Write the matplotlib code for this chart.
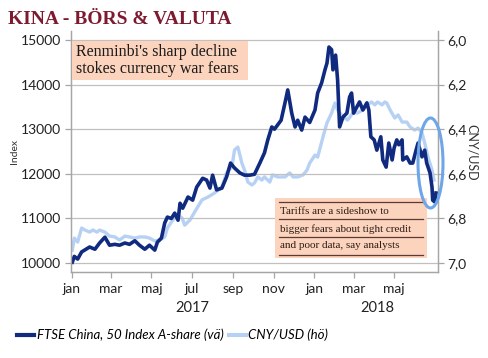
import matplotlib
matplotlib.use("Agg")
import matplotlib.pyplot as plt
import matplotlib.transforms as mtransforms
from matplotlib.patches import Ellipse, Rectangle
from matplotlib.lines import Line2D
import pandas as pd

# FTSE China A50 (left axis)
ftse_dates = [
    "2017-01-02", "2017-01-05", "2017-01-10", "2017-01-16", "2017-01-28", "2017-02-05",
    "2017-02-12", "2017-02-20", "2017-02-27", "2017-03-07", "2017-03-14", "2017-03-22",
    "2017-03-29", "2017-04-06", "2017-04-13", "2017-04-21", "2017-04-28", "2017-05-06",
    "2017-05-10", "2017-05-16", "2017-05-21", "2017-05-25", "2017-05-31", "2017-06-05",
    "2017-06-10", "2017-06-13", "2017-06-17", "2017-06-25", "2017-07-02", "2017-07-08",
    "2017-07-17", "2017-07-23", "2017-07-28", "2017-08-01", "2017-08-07", "2017-08-15",
    "2017-08-22", "2017-08-28", "2017-09-03", "2017-09-11", "2017-09-18", "2017-09-26",
    "2017-10-03", "2017-10-11", "2017-10-18", "2017-10-23", "2017-10-29", "2017-11-02",
    "2017-11-12", "2017-11-18", "2017-11-22", "2017-11-28", "2017-12-03", "2017-12-07",
    "2017-12-13", "2017-12-18", "2017-12-25",
    "2018-01-02", "2018-01-06", "2018-01-12", "2018-01-17", "2018-01-20", "2018-01-23",
    "2018-01-27", "2018-01-29", "2018-02-02", "2018-02-05", "2018-02-08", "2018-02-13",
    "2018-02-19", "2018-02-23", "2018-02-26", "2018-03-01", "2018-03-06", "2018-03-10",
    "2018-03-15", "2018-03-21", "2018-03-24", "2018-03-27", "2018-04-01", "2018-04-05",
    "2018-04-11", "2018-04-14", "2018-04-19", "2018-04-23", "2018-04-28", "2018-05-01",
    "2018-05-05", "2018-05-08", "2018-05-13", "2018-05-14", "2018-05-20", "2018-05-25",
    "2018-05-29", "2018-06-03", "2018-06-06", "2018-06-12", "2018-06-16", "2018-06-19",
    "2018-06-24", "2018-06-27", "2018-06-28", "2018-07-01", "2018-07-03",
]
ftse_values = [
    10020, 10150, 10090, 10250, 10360, 10310,
    10450, 10580, 10400, 10420, 10400, 10450,
    10420, 10500, 10400, 10310, 10400, 10290,
    10470, 10560, 10900, 11030, 11000, 11120,
    10960, 11340, 11230, 11480, 11410, 11700,
    11900, 11860, 11680, 11970, 11640, 11680,
    11930, 12240, 12130, 12020, 11970, 11970,
    11990, 12240, 12470, 12760, 13050, 13000,
    13200, 13600, 13880, 13360, 13050, 13200,
    12980, 13270, 13150,
    13430, 13810, 14040, 14330, 14480, 14840,
    14780, 14330, 14660, 14100, 13050, 13270,
    13360, 13720, 13810, 13360, 13500, 13610,
    13430, 13590, 13430, 12830, 12760, 12530,
    12830, 12310, 12150, 12690, 12310, 12580,
    12760, 12650, 12760, 12310, 12380, 12240,
    12240, 12530, 12690, 12380, 12530, 12240,
    12020, 11700, 11410, 11370, 11570,
]

# CNY per USD (right axis, inverted)
cny_dates = [
    "2017-01-02", "2017-01-05", "2017-01-10", "2017-01-16", "2017-01-21", "2017-01-28",
    "2017-02-02", "2017-02-08", "2017-02-12", "2017-02-20", "2017-02-27", "2017-03-07",
    "2017-03-14", "2017-03-22", "2017-03-29", "2017-04-06", "2017-04-13", "2017-04-21",
    "2017-04-28", "2017-05-06", "2017-05-13", "2017-05-21", "2017-05-25", "2017-05-31",
    "2017-06-05", "2017-06-10", "2017-06-16", "2017-06-20", "2017-06-28", "2017-07-05",
    "2017-07-16", "2017-07-25", "2017-08-04", "2017-08-15", "2017-08-22", "2017-08-30",
    "2017-09-03", "2017-09-08", "2017-09-14", "2017-09-18", "2017-09-23", "2017-09-29",
    "2017-10-03", "2017-10-08", "2017-10-14", "2017-10-18", "2017-10-26", "2017-10-30",
    "2017-11-07", "2017-11-18", "2017-11-25", "2017-11-30", "2017-12-07", "2017-12-15",
    "2017-12-21", "2017-12-25",
    "2018-01-02", "2018-01-06", "2018-01-14", "2018-01-20", "2018-01-27", "2018-02-01",
    "2018-02-05", "2018-02-13", "2018-02-20", "2018-02-28", "2018-03-07", "2018-03-15",
    "2018-03-22", "2018-03-28", "2018-04-02", "2018-04-06", "2018-04-13", "2018-04-17",
    "2018-04-20", "2018-04-25", "2018-05-02", "2018-05-07", "2018-05-13", "2018-05-20",
    "2018-05-25", "2018-06-01", "2018-06-06", "2018-06-12", "2018-06-16", "2018-06-21",
    "2018-06-27", "2018-06-30",
]
cny_values = [
    6.942, 6.888, 6.906, 6.843, 6.852, 6.861,
    6.852, 6.861, 6.852, 6.861, 6.879, 6.883,
    6.897, 6.879, 6.883, 6.888, 6.883, 6.883,
    6.888, 6.901, 6.897, 6.883, 6.843, 6.816,
    6.798, 6.785, 6.798, 6.830, 6.807, 6.771,
    6.717, 6.704, 6.686, 6.659, 6.596, 6.569,
    6.493, 6.480, 6.552, 6.583, 6.637, 6.650,
    6.641, 6.614, 6.628, 6.614, 6.637, 6.605,
    6.614, 6.614, 6.596, 6.614, 6.614, 6.605,
    6.583, 6.552,
    6.516, 6.525, 6.435, 6.372, 6.327, 6.283,
    6.314, 6.345, 6.359, 6.327, 6.327, 6.314,
    6.291, 6.278, 6.291, 6.278, 6.291, 6.278,
    6.283, 6.314, 6.350, 6.336, 6.368, 6.368,
    6.390, 6.404, 6.395, 6.417, 6.462, 6.525,
    6.583, 6.628,
]

month_ticks = ["2017-01-01", "2017-03-01", "2017-05-01", "2017-07-01", "2017-09-01",
               "2017-11-01", "2018-01-01", "2018-03-01", "2018-05-01"]
month_labels = ["jan", "mar", "maj", "jul", "sep", "nov", "jan", "mar", "maj"]
year_ticks = ["2017-01-01", "2018-01-01"]
year_pos = ["2017-07-02", "2018-04-05"]
year_labels = ["2017", "2018"]
left_ticks = [10000, 11000, 12000, 13000, 14000, 15000]
right_ticks = [6.0, 6.2, 6.4, 6.6, 6.8, 7.0]

navy = "#102a80"
light = "#b7d1f5"
gray = "#a6a6a6"
sans = "Lato"
serif = "Liberation Serif"

W, H = 488, 358
fig = plt.figure(figsize=(W / 100, H / 100), dpi=100)
ax = fig.add_axes([71 / W, 1 - 272 / H, 367 / W, 241 / H])
ax2 = ax.twinx()
ax.set_zorder(ax2.get_zorder() + 1)
ax.patch.set_visible(False)

ax2.plot(pd.to_datetime(cny_dates), cny_values, color=light, lw=2.4, solid_joinstyle="round")
ax.plot(pd.to_datetime(ftse_dates), ftse_values, color=navy, lw=2.6, solid_joinstyle="round")

ax.set_xlim(pd.Timestamp("2016-12-31"), pd.Timestamp("2018-07-06"))
ax.set_ylim(9800, 15200)
ax2.set_ylim(7.04, 5.96)

ax.set_yticks(left_ticks)
ax.set_yticklabels([str(v) for v in left_ticks])
ax2.set_yticks(right_ticks)
ax2.set_yticklabels([f"{v:.1f}".replace(".", ",") for v in right_ticks])
ax.set_xticks(pd.to_datetime(month_ticks))
ax.set_xticklabels(month_labels)
ax.set_xticks(pd.to_datetime(year_ticks), minor=True)

ax.grid(axis="y", color="#c0c0c0", lw=0.9)
ax.set_axisbelow(True)

for a in (ax, ax2):
    for side in ("left", "right", "bottom"):
        a.spines[side].set_color(gray)
        a.spines[side].set_linewidth(0.9)
    a.spines["top"].set_visible(False)
    a.tick_params(colors=gray, labelcolor="#222222", length=4, width=0.9, labelsize=10)
    for lab in a.get_xticklabels() + a.get_yticklabels():
        lab.set_family(sans)
ax.tick_params(axis="x", which="minor", length=9, width=0.9, colors=gray)
ax.tick_params(axis="x", pad=4)
ax.tick_params(axis="y", pad=3)
ax2.tick_params(axis="y", pad=3)

trans = mtransforms.blended_transform_factory(ax.transData, ax.transAxes)
for pos, lab in zip(year_pos, year_labels):
    ax.text(pd.Timestamp(pos), -0.15, lab, transform=trans, ha="center", va="center",
            fontsize=10.5, family=sans, color="#222222")

fig.text(15 / W, 1 - 152 / H, "Index", rotation=90, ha="center", va="center",
         fontsize=7.5, family=sans, color="#333333")
fig.text(472 / W, 1 - 152 / H, "CNY/USD", rotation=270, ha="center", va="center",
         fontsize=9, family=sans, color="#333333")

fig.text(8 / W, 1 - 19 / H, "KINA - BÖRS & VALUTA", ha="left", va="center",
         fontsize=14, fontweight="bold", family=serif, color="#7e1a30")

# top annotation box
fig.add_artist(Rectangle((72 / W, 1 - 80 / H), 176 / W, 39 / H, transform=fig.transFigure,
                         facecolor="#fcd3bc", edgecolor="none", zorder=5))
fig.text(76 / W, 1 - 52 / H, "Renminbi's sharp decline", ha="left", va="center",
         fontsize=11.5, family=serif, color="#1a1a1a", zorder=6)
fig.text(76 / W, 1 - 69 / H, "stokes currency war fears", ha="left", va="center",
         fontsize=11.5, family=serif, color="#1a1a1a", zorder=6)

# bottom annotation box
fig.add_artist(Rectangle((275 / W, 1 - 258 / H), 152 / W, 60 / H, transform=fig.transFigure,
                         facecolor="#fcd3bc", edgecolor="none", zorder=5))
for yy in (202, 219, 237, 255):
    fig.add_artist(Line2D([279 / W, 423 / W], [1 - yy / H, 1 - yy / H], transform=fig.transFigure,
                          color="#5b3b33", lw=0.9, zorder=6))
for yy, line in zip((211, 229, 246), ("Tariffs are a sideshow to",
                                      "bigger fears about tight credit",
                                      "and poor data, say analysts")):
    fig.text(280 / W, 1 - yy / H, line, ha="left", va="center", fontsize=8,
             family=serif, color="#2b1d18", zorder=6)

fig.add_artist(Ellipse((430.5 / W, 1 - 163 / H), 25 / W, 90 / H, transform=fig.transFigure,
                       facecolor="none", edgecolor="#6ea6e8", lw=2.2, zorder=7))

handles = [Line2D([], [], color=navy, lw=3), Line2D([], [], color=light, lw=3)]
fig.legend(handles, ["FTSE China, 50 Index A-share (vä)", "CNY/USD (hö)"],
           loc="center left", bbox_to_anchor=(0.01, 1 - 335 / H), ncol=2, frameon=False,
           handlelength=1.3, handletextpad=0.2, columnspacing=0.4,
           prop={"family": sans, "style": "italic", "size": 9.5})

fig.savefig("out.png", dpi=100)
